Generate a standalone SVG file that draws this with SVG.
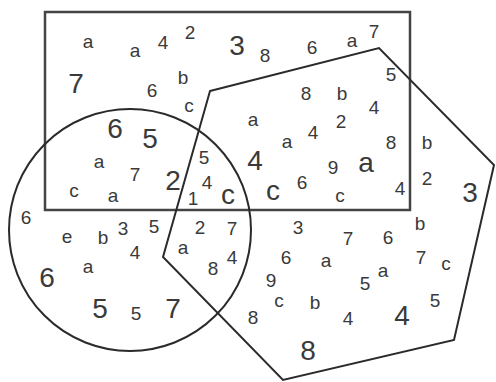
<svg xmlns="http://www.w3.org/2000/svg" width="496" height="382" viewBox="0 0 496 382">
<style>
.shape{fill:none;stroke:#2a2a2a;stroke-width:2}
.rect{stroke:#444;stroke-width:2.5}
text{font-family:"Liberation Sans",Arial,sans-serif;fill:#3a3a3a;text-anchor:middle}
.s{font-size:19px}
.L{font-size:28px}
</style>
<rect width="496" height="382" fill="#fff"/>
<g id="shapes">
<rect id="rectangle" class="shape rect" x="45" y="12" width="365" height="198"/>
<circle id="circle" class="shape" cx="130" cy="230" r="121"/>
<polygon id="polygon" class="shape" points="210,91 379,48 494,165 454,340 283,380 163,257"/>
</g>
<g id="labels" class="s">
<text x="88" y="48">a</text>
<text x="135" y="57">a</text>
<text x="163" y="49">4</text>
<text x="190" y="39">2</text>
<text x="265" y="62">8</text>
<text x="312" y="54">6</text>
<text x="352" y="47">a</text>
<text x="374" y="38">7</text>
<text x="152" y="97">6</text>
<text x="183" y="84">b</text>
<text x="189" y="112">c</text>
<text x="391" y="81">5</text>
<text x="306" y="100">8</text>
<text x="342" y="100">b</text>
<text x="374" y="114">4</text>
<text x="253" y="126">a</text>
<text x="341" y="128">2</text>
<text x="313" y="139">4</text>
<text x="287" y="148">a</text>
<text x="391" y="149">8</text>
<text x="427" y="149">b</text>
<text x="99" y="168">a</text>
<text x="135" y="181">7</text>
<text x="204" y="164">5</text>
<text x="333" y="174">9</text>
<text x="427" y="185">2</text>
<text x="74" y="197">c</text>
<text x="113" y="202">a</text>
<text x="207" y="189">4</text>
<text x="193" y="205">1</text>
<text x="302" y="189">6</text>
<text x="340" y="202">c</text>
<text x="400" y="195">4</text>
<text x="26" y="224">6</text>
<text x="67" y="243">e</text>
<text x="103" y="244">b</text>
<text x="123" y="235">3</text>
<text x="154" y="233">5</text>
<text x="135" y="259">4</text>
<text x="200" y="234">2</text>
<text x="232" y="235">7</text>
<text x="183" y="254">a</text>
<text x="213" y="275">8</text>
<text x="232" y="264">4</text>
<text x="298" y="234">3</text>
<text x="348" y="245">7</text>
<text x="388" y="244">6</text>
<text x="420" y="230">b</text>
<text x="286" y="264">6</text>
<text x="326" y="267">a</text>
<text x="421" y="264">7</text>
<text x="446" y="270">c</text>
<text x="88" y="273">a</text>
<text x="271" y="287">9</text>
<text x="365" y="290">5</text>
<text x="383" y="277">a</text>
<text x="136" y="320">5</text>
<text x="253" y="324">8</text>
<text x="279" y="307">c</text>
<text x="315" y="309">b</text>
<text x="348" y="325">4</text>
<text x="435" y="307">5</text>
</g>
<g id="big-labels" class="L">
<text x="76" y="93">7</text>
<text x="237" y="55">3</text>
<text x="115" y="138">6</text>
<text x="150" y="148">5</text>
<text x="173" y="190">2</text>
<text x="255" y="170">4</text>
<text x="366" y="172">a</text>
<text x="470" y="202">3</text>
<text x="47" y="287">6</text>
<text x="100" y="318">5</text>
<text x="173" y="318">7</text>
<text x="402" y="325">4</text>
<text x="308" y="360">8</text>
<text x="228" y="204">c</text>
<text x="273" y="200">c</text>
</g>
</svg>
